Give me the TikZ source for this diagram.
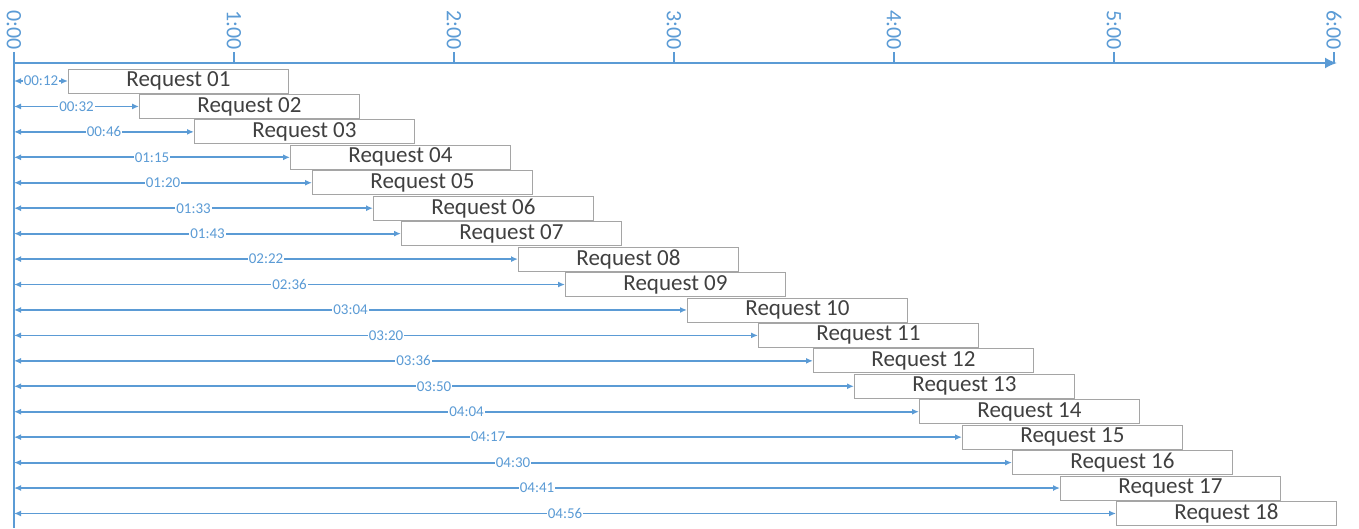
\documentclass[tikz,border=0pt]{standalone}
\usepackage{fontspec}
\setmainfont{Carlito}
\usetikzlibrary{arrows.meta,positioning}
\definecolor{axisblue}{HTML}{5B9BD5}
\definecolor{boxgray}{HTML}{A5A5A5}
\definecolor{textgray}{HTML}{404040}
\tikzstyle{timearrow} = [axisblue, line width=1.8pt, <->, >={Latex[length=7pt,width=6pt]}]
\tikzstyle{request} = [draw=boxgray, line width=0.9pt, fill=white, text=textgray, minimum width=220pt, minimum height=24pt, inner sep=0pt, font=\fontsize{23}{23}\selectfont]
\begin{document}
\begin{tikzpicture}[x=1pt,y=-1pt]
\useasboundingbox (0,0) rectangle (1359,529);
\tikzset{tick/.style={axisblue,font=\fontsize{22}{22}\selectfont,rotate=-90,anchor=east,inner sep=1pt},
delay/.style={fill=white,inner sep=1pt,text=axisblue,font=\fontsize{15}{15}\selectfont}}
\coordinate (origin) at (14,63);
\coordinate (bottom) at (14,528);
\coordinate (end) at (1337,63);
\draw[axisblue,line width=1.8pt] (14,52) -- (bottom);
\draw[axisblue,line width=1.8pt,-{Latex[length=12pt,width=11pt]}] (origin) -- (end);
\foreach \m in {0,1,...,6} {
\coordinate (tk\m) at (14+220*\m,63);
\draw[axisblue,line width=1.8pt] (tk\m) -- ++(0,-11) node[tick] (lbl\m) {\m:00}; }

\foreach \x/\stamp[count=\i] in {68/00:12,139/00:32,194/00:46,290/01:15,312/01:20,373/01:33,401/01:43,518/02:22,565/02:36,687/03:04,758/03:20,813/03:36,854/03:50,919/04:04,962/04:17,1012/04:30,1060/04:41,1116/04:56} {
\pgfmathsetmacro\y{81+(\i-1)*25.44}
\node[request,anchor=west] (r\i) at (\x,\y) {Request \ifnum\i<10 0\fi\i};
\coordinate (s\i) at (14,\y);
\draw[timearrow] (s\i) -- (r\i) node[midway,delay] (d\i) {\stamp}; }

\end{tikzpicture}
\end{document}
